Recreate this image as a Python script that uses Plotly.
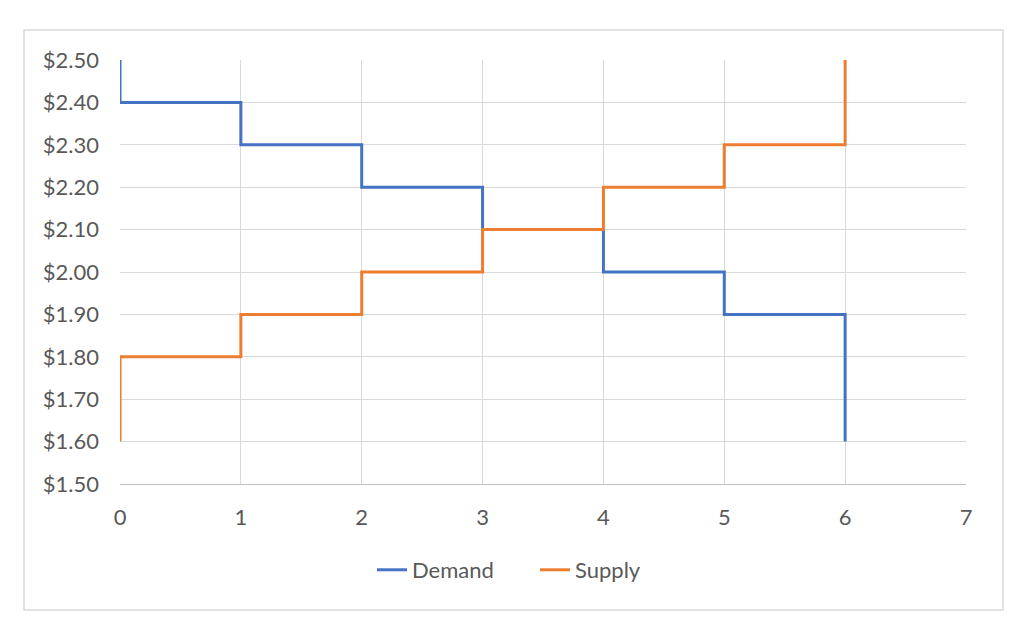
import plotly.graph_objects as go

quantity = [0, 1, 2, 3, 4, 5, 6, 6]
demand_price = [2.50, 2.40, 2.30, 2.20, 2.10, 2.00, 1.90, 1.60]
supply_price = [1.60, 1.80, 1.90, 2.00, 2.10, 2.20, 2.30, 2.50]
y_ticks = [1.5, 1.6, 1.7, 1.8, 1.9, 2.0, 2.1, 2.2, 2.3, 2.4, 2.5]
x_ticks = [0, 1, 2, 3, 4, 5, 6, 7]

fig = go.Figure()
fig.add_trace(go.Scatter(x=quantity, y=demand_price, name="Demand", mode="lines",
                         line=dict(color="#4472C4", width=3, shape="vh")))
fig.add_trace(go.Scatter(x=quantity, y=supply_price, name="Supply", mode="lines",
                         line=dict(color="#ED7D31", width=3, shape="vh")))

OFF = 8  # page body margin
L, R, T, B = 120 - OFF, 966 - OFF, 60 - OFF, 484 - OFF
W, H = R - L, B - T
def px(x): return (x - OFF - L) / W
def py(y): return (B - (y - OFF)) / H

fig.add_shape(type="rect", xref="paper", yref="paper",
              x0=px(24), x1=px(1003), y0=py(610), y1=py(30),
              line=dict(color="#D9D9D9", width=1.5), layer="below")

font = "Lato, Open Sans, sans-serif"
fig.update_layout(
    width=1025, height=640,
    margin=dict(l=L, r=1025 - R, t=T, b=640 - B),
    plot_bgcolor="white", paper_bgcolor="white",
    font=dict(family=font, size=22, color="#595959"),
    showlegend=True,
    legend=dict(orientation="h", x=px(372), xanchor="left", y=py(570), yanchor="middle",
                font=dict(size=22, color="#595959"), entrywidth=118),
    xaxis=dict(range=[0, 7], tickvals=x_ticks, showgrid=True, gridcolor="#D9D9D9", gridwidth=1,
               zeroline=False, showline=True, linecolor="#BFBFBF", ticks="", ticklabelstandoff=14),
    yaxis=dict(range=[1.5, 2.5], tickvals=y_ticks, tickformat="$.2f", showgrid=True,
               gridcolor="#D9D9D9", gridwidth=1, zeroline=False, showline=False, ticks="",
               ticklabelstandoff=20),
)
fig.write_html("out.html")
